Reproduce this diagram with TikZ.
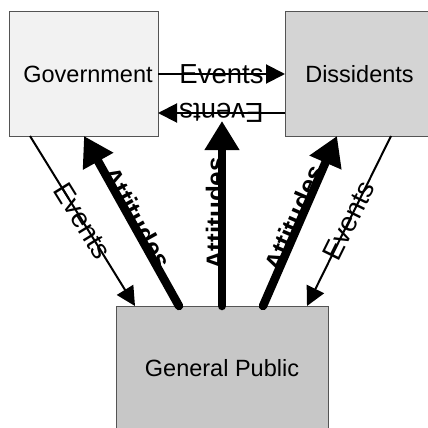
\documentclass[tikz,border=0pt]{standalone}
\usepackage{fontspec}
\setmainfont{Liberation Sans}
\newcommand*{\boxfont}{\fontsize{23.5}{28}\selectfont}
\newcommand*{\eventfont}{\fontsize{27.5}{32}\selectfont}
\newcommand*{\attfont}{\fontsize{26}{30}\selectfont\bfseries}
\definecolor{G}{gray}{0.95}
\definecolor{D}{gray}{0.83}
\definecolor{P}{gray}{0.78}
\definecolor{edge}{gray}{0.33}
\usetikzlibrary{arrows.meta}
\tikzstyle{base}=[x=1pt, y=-1pt, inner sep=0pt, outer sep=0pt]
\tikzstyle{actor}=[draw=edge, line width=1pt, rectangle, minimum width=149pt, minimum height=124pt, font=\boxfont]
\tikzstyle{events}=[-{Triangle[length=19pt,width=19pt]}, line width=2pt, black]
\tikzstyle{attitudes}=[-{Triangle[length=29pt,width=33pt]}, line width=8.5pt, line cap=round, black]
\tikzstyle{evlabel}=[midway, sloped, anchor=center, inner sep=0pt, font=\eventfont]
\tikzstyle{attlabel}=[midway, sloped, anchor=south, inner xsep=0pt, inner ysep=-3pt, font=\attfont]

\begin{document}
\begin{tikzpicture}[base]
    \clip (0,0) rectangle (428,428);
    \fill [white] (0,0) rectangle (428,428);
        \node [actor, fill=G] (gov) at (83.5,74) {\hspace*{9pt}Government};
        \node [actor, fill=D] (dis) at (359.5,74) {Dissidents};
        \node [actor, fill=P, minimum width=212pt] (pub) at (222,368) {General Public};
        % events between the two
        \draw [events] (gov.east) -- node [evlabel] {Events} (dis.west);
        \draw [events] ([yshift=-39pt]dis.west) -- node [evlabel, allow upside down] {Events} ([yshift=-39pt]gov.east);
        % events to the public
        \draw [events] ([xshift=21pt]gov.south west) -- node [evlabel] {Events} ([xshift=19pt]pub.north west);
        \draw [events] ([xshift=106pt]dis.south west) -- node [evlabel] {Events} ([xshift=-21pt]pub.north east);
        % attitudes from the public
        \draw [attitudes] ([xshift=63pt]pub.north west) -- node [attlabel] {Attitudes} ([xshift=75pt]gov.south west);
        \draw [attitudes] (pub.north) -- node [attlabel] {Attitudes} ([yshift=185pt]pub.north);
        \draw [attitudes] ([xshift=-65pt]pub.north east) -- node [attlabel] {Attitudes} ([xshift=52pt]dis.south west);
    \end{tikzpicture}
\end{document}
